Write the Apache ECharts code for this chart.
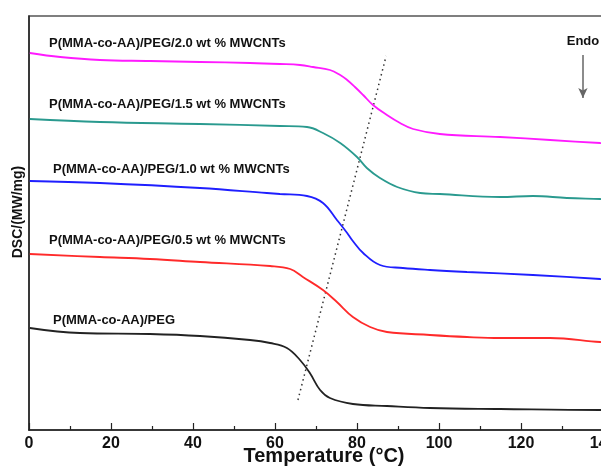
<!DOCTYPE html>
<html>
<head>
<meta charset="utf-8">
<script src="https://cdn.jsdelivr.net/npm/echarts@6/dist/echarts.min.js"></script>
<style>
  html, body { margin: 0; padding: 0; background: #fff; }
  #chart { width: 601px; height: 466px; }
</style>
</head>
<body>
<div id="chart"></div>
<script>
// temperature (°C) vs DSC signal (arbitrary offset units)
const xTicks = [0, 20, 40, 60, 80, 100, 120, 140];

const mwcnt20 = [[0.2,377],[7.6,373],[17.3,370],[29.5,369],[41.7,368],[53.9,367],[61.2,366],[66.1,365],[69.3,363],[73.4,360],[75.9,355],[77.6,350],[79.5,343],[81.5,335],[83.9,325],[87.3,315],[90.5,307],[93.7,301],[100.2,296],[114.9,293],[127.1,290],[139.3,287],[145,286]];
const mwcnt15 = [[0.2,311],[17.3,308],[41.7,306],[61.2,304],[67.8,303],[71.7,297],[75.9,287],[80.0,273],[82.4,262],[85.6,252],[89.8,243],[95.4,237],[100.2,236],[114.9,233],[122.9,234],[131.2,232],[139.3,231],[145,230]];
const mwcnt10 = [[0.2,249],[17.3,247],[41.7,242],[58.0,237],[61.2,236],[67.8,234],[71.7,227],[75.1,210],[77.6,197],[78.8,190],[81.5,177],[85.6,165],[91.2,162],[97.8,160],[106.8,158],[122.9,155],[139.3,151],[145,150]];
const mwcnt05 = [[0.2,176],[17.3,173],[29.5,171],[41.7,168],[58.8,164],[63.7,161],[66.8,153],[71.7,140],[75.1,128],[79.0,113],[83.2,103],[87.3,98],[97.8,95],[106.8,93],[114.9,92],[127.1,92],[139.3,88],[145,87]];
const pegBlend = [[0.2,102],[12.4,97],[29.5,96],[41.7,94],[53.9,90],[58.8,87],[62.9,82],[66.1,70],[68.5,57],[71.0,40],[73.4,32],[79.0,26],[87.3,24],[97.8,22],[114.9,21],[139.3,20],[145,20]];
const tgGuide = [[65.6,30],[87.1,374]];
const endoArrow = [[135.1,375],[135.1,332]];

const seriesNames = [
  'P(MMA-co-AA)/PEG/2.0 wt % MWCNTs',
  'P(MMA-co-AA)/PEG/1.5 wt % MWCNTs',
  'P(MMA-co-AA)/PEG/1.0 wt % MWCNTs',
  'P(MMA-co-AA)/PEG/0.5 wt % MWCNTs',
  'P(MMA-co-AA)/PEG'
];
const seriesData = [mwcnt20, mwcnt15, mwcnt10, mwcnt05, pegBlend];
const colors = ['#ff1aff', '#2a9a8f', '#1f1fff', '#ff2a2a', '#222222'];
// label anchor (px) next to each curve
const labelPos = [[49, 43], [49, 104], [53, 169], [49, 240], [53, 320]];

const chart = echarts.init(document.getElementById('chart'));
const font = 'Arial, "Liberation Sans", sans-serif';

const curves = seriesData.map((d, i) => ({
  name: seriesNames[i],
  type: 'line',
  data: d,
  smooth: 0.4,
  showSymbol: false,
  lineStyle: { color: colors[i], width: 1.8 },
  z: 3
}));

chart.setOption({
  animation: false,
  grid: {
    left: 29, top: 16, width: 656, height: 414,
    outerBoundsMode: 'none',
    show: true, borderColor: '#555', borderWidth: 1.5
  },
  xAxis: {
    type: 'value',
    min: 0, max: 160, interval: 20,
    axisLine: { lineStyle: { color: '#222', width: 1.5 } },
    axisTick: { inside: true, length: 7, lineStyle: { color: '#222', width: 1.2 } },
    minorTick: { show: true, splitNumber: 2, length: 4, lineStyle: { color: '#222', width: 1.2 } },
    splitLine: { show: false },
    axisLabel: {
      margin: 6, color: '#111', fontWeight: 'bold', fontSize: 16, fontFamily: font,
      formatter: v => (xTicks.includes(v) ? String(v) : '')
    }
  },
  yAxis: {
    type: 'value',
    min: 0, max: 414,
    axisLine: { show: true, lineStyle: { color: '#222', width: 1.5 } },
    axisTick: { show: false },
    axisLabel: { show: false },
    splitLine: { show: false }
  },
  series: curves.concat([
    {
      type: 'line',
      data: tgGuide,
      showSymbol: false,
      lineStyle: { color: '#333', width: 1.5, type: [1.5, 3.5] },
      z: 2
    },
    {
      type: 'line',
      data: [],
      markLine: {
        silent: true,
        symbol: ['none', 'arrow'],
        symbolSize: [7, 10],
        label: { show: false },
        lineStyle: { color: '#666', width: 1.5, type: 'solid' },
        data: [[{ coord: endoArrow[0] }, { coord: endoArrow[1] }]]
      }
    }
  ]),
  graphic: seriesNames.map((n, i) => ({
    type: 'text',
    x: labelPos[i][0],
    y: labelPos[i][1],
    style: { text: n, font: 'bold 13px ' + font, fill: '#111', align: 'left', verticalAlign: 'middle' }
  })).concat([
    {
      type: 'text', x: 583, y: 41,
      style: { text: 'Endo', font: 'bold 13px ' + font, fill: '#111', align: 'center', verticalAlign: 'middle' }
    },
    {
      type: 'text', x: 324, y: 456,
      style: { text: 'Temperature (°C)', font: 'bold 20px ' + font, fill: '#111', align: 'center', verticalAlign: 'middle' }
    },
    {
      type: 'text', x: 18, y: 212, rotation: Math.PI / 2,
      style: { text: 'DSC/(MW/mg)', font: 'bold 14px ' + font, fill: '#111', align: 'center', verticalAlign: 'middle' }
    }
  ])
});
</script>
</body>
</html>
